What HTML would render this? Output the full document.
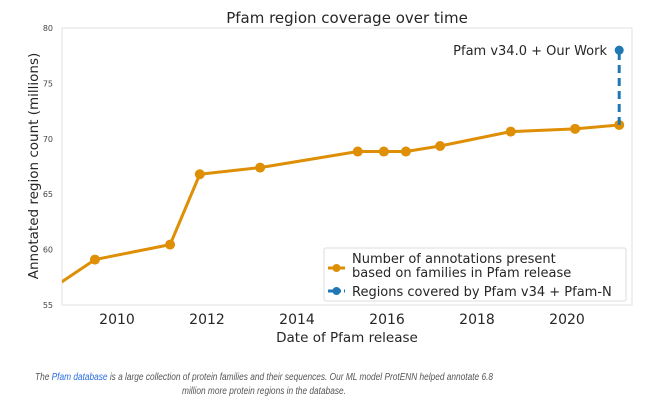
<!DOCTYPE html>
<html><head><meta charset="utf-8"><style>
html,body{margin:0;padding:0;background:#fff;}
svg{display:block;font-family:"DejaVu Sans","Liberation Sans",sans-serif;}
</style></head><body>
<svg id="chart" width="653" height="407" viewBox="0 0 653 407" xmlns="http://www.w3.org/2000/svg">
<defs><clipPath id="plotclip"><rect x="62" y="28" width="570" height="277"/></clipPath></defs>
<rect width="653" height="407" fill="#fff"/>
<text x="347" y="23" text-anchor="middle" font-size="15" fill="#262626">Pfam region coverage over time</text>
<rect x="62" y="28" width="570" height="277" fill="#fff" stroke="#e6e6e6" stroke-width="1.2"/>
<g id="yticks"></g><g id="xticks"></g>
<text transform="translate(38,166) rotate(-90)" text-anchor="middle" font-size="13.5" fill="#262626">Annotated region count (millions)</text>
<text x="347" y="342" text-anchor="middle" font-size="13.5" fill="#262626">Date of Pfam release</text>
<g id="series" clip-path="url(#plotclip)"></g>
<text x="607" y="55" text-anchor="end" font-size="13" fill="#262626">Pfam v34.0 + Our Work</text>
<g>
<rect x="324" y="248" width="302" height="53" fill="#fff" fill-opacity="0.85" stroke="#dcdcdc" stroke-width="1" rx="2"/>
<line x1="328" y1="268" x2="345" y2="268" stroke="#de8f05" stroke-width="3"/>
<circle cx="336.5" cy="268" r="4" fill="#de8f05"/>
<text x="352" y="263" font-size="13" fill="#262626">Number of annotations present</text>
<text x="352" y="277" font-size="13" fill="#262626">based on families in Pfam release</text>
<line x1="328" y1="291" x2="345" y2="291" stroke="#1f77b4" stroke-width="3" stroke-dasharray="5,3"/>
<circle cx="336.5" cy="291" r="4" fill="#1f77b4"/>
<text x="352" y="296" font-size="13" fill="#262626">Regions covered by Pfam v34 + Pfam-N</text>
</g>
<text x="264" y="380" text-anchor="middle" font-family="Liberation Sans, sans-serif" font-style="italic" font-size="10" fill="#555" textLength="458" lengthAdjust="spacingAndGlyphs">The <tspan fill="#2a6ee0">Pfam database</tspan> is a large collection of protein families and their sequences. Our ML model ProtENN helped annotate 6.8</text>
<text x="264" y="394" text-anchor="middle" font-family="Liberation Sans, sans-serif" font-style="italic" font-size="10" fill="#555" textLength="164" lengthAdjust="spacingAndGlyphs">million more protein regions in the database.</text>
</svg>
<script>
const years = [2008.3, 2009.51, 2011.18, 2011.84, 2013.18, 2015.35, 2015.93, 2016.42, 2017.18, 2018.75, 2020.18, 2021.16];
const counts = [55.8, 59.1, 60.45, 66.8, 67.4, 68.85, 68.85, 68.85, 69.35, 70.65, 70.9, 71.25];
const ourYears = [2021.16, 2021.16];
const ourCounts = [71.25, 78.0];
const xTicks = [2010, 2012, 2014, 2016, 2018, 2020];
const yTicks = [55, 60, 65, 70, 75, 80];
const NS = "http://www.w3.org/2000/svg";
function xs(v){return 117 + (v - 2010) * 45;}
function ys(v){return 305 - (v - 55) * 277 / 25;}
function mk(tag, attrs, parent){const e=document.createElementNS(NS,tag);for(const k in attrs)e.setAttribute(k,attrs[k]);parent.appendChild(e);return e;}
const yg=document.getElementById('yticks');
yTicks.forEach(t=>{const e=mk('text',{x:53,y:ys(t)+3,'text-anchor':'end','font-size':8,fill:'#444'},yg);e.textContent=t;

});
const xg=document.getElementById('xticks');
xTicks.forEach(t=>{const e=mk('text',{x:xs(t),y:324,'text-anchor':'middle','font-size':14,fill:'#262626'},xg);e.textContent=t;

});
const sg=document.getElementById('series');
const pl=mk('polyline',{points:years.map((y,i)=>xs(y)+','+ys(counts[i])).join(' '),fill:'none',stroke:'#de8f05','stroke-width':3,'stroke-linejoin':'round'},sg);


years.forEach((y,i)=>{const c=mk('circle',{cx:xs(y),cy:ys(counts[i]),r:5,fill:'#de8f05'},sg);

});
const bl=mk('line',{x1:xs(ourYears[0]),y1:ys(ourCounts[0]),x2:xs(ourYears[1]),y2:ys(ourCounts[1]),stroke:'#1f77b4','stroke-width':3,'stroke-dasharray':'8,5'},sg);


const bc=mk('circle',{cx:xs(ourYears[1]),cy:ys(ourCounts[1]),r:4.5,fill:'#1f77b4'},sg);


</script>
</body></html>
